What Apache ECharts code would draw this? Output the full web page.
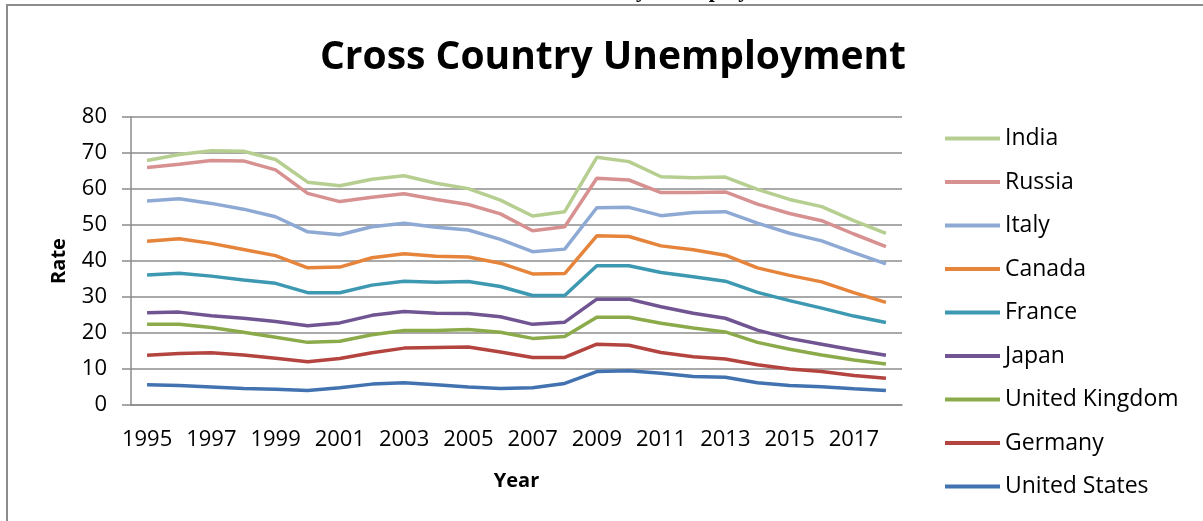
<!DOCTYPE html>
<html>
<head>
<meta charset="utf-8">
<script src="https://cdn.jsdelivr.net/npm/echarts@6/dist/echarts.min.js"></script>
<style>
  html, body { margin: 0; padding: 0; background: #fff; }
  #main { width: 1203px; height: 521px; }
</style>
</head>
<body>
<div id="main"></div>
<script>
// 年份
let years = ['1995','1996','1997','1998','1999','2000','2001','2002','2003','2004','2005','2006',
             '2007','2008','2009','2010','2011','2012','2013','2014','2015','2016','2017','2018'];

// 各國失業率 (堆疊折線)
let usData      = [5.6,5.4,5.0,4.6,4.4,4.0,4.8,5.8,6.2,5.6,5.0,4.6,4.8,6.0,9.3,9.5,8.8,7.9,7.7,6.2,5.4,5.1,4.5,4.0];
let germanyData = [8.2,8.9,9.5,9.3,8.6,8.0,8.1,8.7,9.6,10.4,11.1,10.1,8.4,7.2,7.6,7.1,5.8,5.5,5.1,5.0,4.6,4.2,3.7,3.4];
let ukData      = [8.6,8.1,7.0,6.3,5.8,5.4,4.8,5.0,4.9,4.7,4.9,5.5,5.3,5.8,7.5,7.8,8.1,8.0,7.5,6.2,5.5,4.6,4.3,4.0];
let japanData   = [3.2,3.4,3.3,3.9,4.4,4.6,5.1,5.4,5.3,4.8,4.4,4.3,3.9,4.0,5.0,5.0,4.6,4.1,3.8,3.4,3.0,3.0,2.8,2.4];
let franceData  = [10.5,10.8,11.0,10.6,10.6,9.2,8.4,8.4,8.4,8.6,8.9,8.4,8.0,7.4,9.3,9.3,9.5,10.1,10.3,10.5,10.5,10.0,9.4,9.1];
let canadaData  = [9.4,9.6,9.1,8.5,7.7,6.9,7.1,7.6,7.6,7.2,6.8,6.5,6.0,6.1,8.3,8.1,7.4,7.5,7.2,6.8,7.0,7.3,6.5,5.6];
let italyData   = [11.2,11.1,11.1,11.2,10.8,10.0,9.0,8.6,8.5,8.1,7.5,6.6,6.2,6.8,7.8,8.1,8.4,10.4,12.1,12.4,11.7,11.4,11.1,10.7];
let russiaData  = [9.3,9.6,11.9,13.4,13.0,10.7,9.2,8.2,8.2,7.7,7.1,7.1,5.8,6.2,8.2,7.6,6.4,5.5,5.5,5.3,5.5,5.6,5.2,4.8];
let indiaData   = [1.9,2.7,2.7,2.7,2.9,3.1,4.4,5.0,5.0,4.5,4.4,3.8,4.1,4.2,5.8,5.1,4.4,4.1,4.1,4.1,3.9,3.9,3.7,3.7];

let names  = ['United States','Germany','United Kingdom','Japan','France','Canada','Italy','Russia','India'];
let values = [usData, germanyData, ukData, japanData, franceData, canadaData, italyData, russiaData, indiaData];
let colors = ['#4273b0','#b4443f','#8bab4b','#715592','#3d99b1','#e5843a','#8eaad4','#d69190','#b6cf91'];

let myChart = echarts.init(document.getElementById('main'));

let font = '"Open Sans", sans-serif';

let series = names.map(function (n, i) {
    return {
        name: n,
        type: 'line',
        stack: 'total',
        data: values[i],
        color: colors[i],
        symbol: 'none',
        lineStyle: { width: 3.5 }
    };
});

let option = {
    animation: false,
    textStyle: { fontFamily: font },
    title: {
        text: 'Cross Country Unemployment',
        left: 608,
        top: 33,
        textAlign: 'center',
        textStyle: { fontFamily: font, fontSize: 39, fontWeight: 'bold', color: '#000' }
    },
    graphic: [
        {
            type: 'text', z: 1, x: 610, y: -9,
            style: { text: 'Chart 1: Cross Country Unemployment', font: 'bold 22px "Liberation Serif"',
                     fill: '#000', textAlign: 'center', textVerticalAlign: 'middle' }
        },
        {
            type: 'rect', z: 2,
            shape: { x: 7, y: 5, width: 1210, height: 530 },
            style: { fill: 'none', stroke: '#8c8c8c', lineWidth: 2 }
        }
    ],
    legend: {
        orient: 'vertical',
        left: 940,
        top: 122,
        icon: 'rect',
        itemWidth: 55,
        itemHeight: 4,
        itemGap: 20.5,
        data: names.slice().reverse(),
        textStyle: { fontFamily: font, fontSize: 23, color: '#000' }
    },
    grid: { left: 131, right: 301, top: 117, bottom: 116 },
    xAxis: {
        type: 'category',
        data: years,
        boundaryGap: true,
        name: 'Year',
        nameLocation: 'middle',
        nameGap: 66,
        nameTextStyle: { fontFamily: font, fontSize: 20, fontWeight: 'bold', color: '#000' },
        axisLine: { lineStyle: { color: '#8c8c8c', width: 1.5 } },
        axisTick: { show: false },
        axisLabel: { interval: 1, margin: 24, fontFamily: font, fontSize: 22, color: '#000' }
    },
    yAxis: {
        type: 'value',
        min: 0,
        max: 80,
        interval: 10,
        name: 'Rate',
        nameLocation: 'middle',
        nameRotate: 90,
        nameGap: 62,
        nameTextStyle: { fontFamily: font, fontSize: 20, fontWeight: 'bold', color: '#000' },
        axisLine: { show: true, lineStyle: { color: '#8c8c8c', width: 1.5 } },
        axisTick: { show: true, length: 9, lineStyle: { color: '#8c8c8c', width: 1.5 } },
        axisLabel: { margin: 24, fontFamily: font, fontSize: 22, color: '#000' },
        splitLine: { lineStyle: { color: '#8c8c8c', width: 1.5 } }
    },
    series: series
};

myChart.setOption(option);

window.onresize = function () {
    myChart.resize();
};
</script>
</body>
</html>
